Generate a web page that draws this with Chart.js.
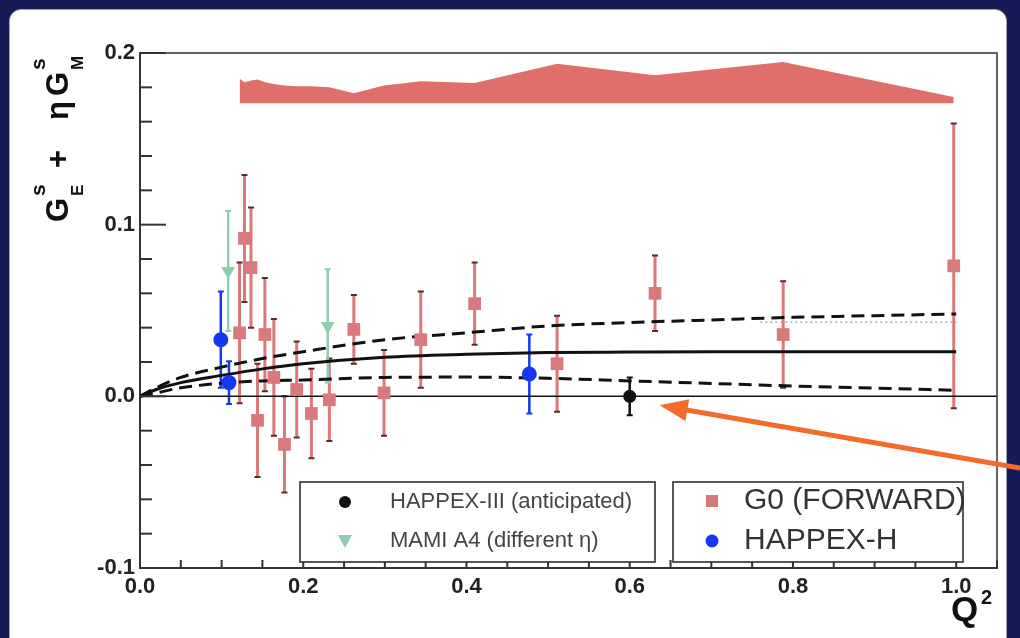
<!DOCTYPE html>
<html>
<head>
<meta charset="utf-8">
<script src="https://cdn.jsdelivr.net/npm/chart.js@4.4.0/dist/chart.umd.min.js"></script>
<style>
  body { margin: 0; background: #161b55; overflow: hidden; }
  #panel { position: absolute; left: 9px; top: 9px; width: 996px; height: 660px; background: #fff; border: 1px solid #9aa0b8; border-radius: 12px; }
  #strangeness { position: absolute; left: 0; top: 0; }
</style>
</head>
<body>
<div id="panel"></div>
<canvas id="strangeness" width="1020" height="638"></canvas>
<script>
// G0 forward-angle points
const g0Q2 = [0.122, 0.128, 0.136, 0.144, 0.153, 0.164, 0.177, 0.192, 0.210, 0.232, 0.262, 0.299, 0.344, 0.410, 0.511, 0.631, 0.788, 0.997];
const g0Val = [0.037, 0.092, 0.075, -0.014, 0.036, 0.011, -0.028, 0.004, -0.010, -0.002, 0.039, 0.002, 0.033, 0.054, 0.019, 0.060, 0.036, 0.076];
const g0Err = [0.041, 0.037, 0.035, 0.033, 0.033, 0.034, 0.028, 0.028, 0.026, 0.024, 0.020, 0.025, 0.028, 0.024, 0.028, 0.022, 0.031, 0.083];
// G0 systematic band (top edge, drawn down to a fixed base)
const g0SysTop = [0.185, 0.183, 0.184, 0.1845, 0.183, 0.182, 0.181, 0.1806, 0.1806, 0.180, 0.1766, 0.181, 0.1836, 0.1825, 0.1938, 0.187, 0.1947, 0.1743];
const g0SysBase = 0.1708;

const happexHQ2 = [0.099, 0.109, 0.477];
const happexHVal = [0.033, 0.008, 0.013];
const happexHErr = [0.028, 0.0125, 0.023];

const mamiQ2 = [0.108, 0.230];
const mamiVal = [0.073, 0.041];
const mamiErr = [0.035, 0.033];

const happex3Q2 = [0.6];
const happex3Val = [0.0];
const happex3Err = [0.011];

// theory curves
const curveQ2 = [0, 0.02, 0.05, 0.1, 0.15, 0.2, 0.3, 0.4, 0.5, 0.6, 0.7, 0.8, 0.9, 1.0];
const fitCentral = [0, 0.004, 0.008, 0.0122, 0.016, 0.019, 0.0228, 0.0245, 0.0255, 0.0258, 0.026, 0.026, 0.026, 0.026];
const fitUpper = [0, 0.005, 0.011, 0.017, 0.022, 0.026, 0.033, 0.037, 0.041, 0.043, 0.0445, 0.046, 0.047, 0.048];
const fitLower = [0, 0.002, 0.005, 0.0076, 0.009, 0.0095, 0.011, 0.0112, 0.0105, 0.009, 0.0075, 0.006, 0.0048, 0.0035];
const refQ2 = [0.76, 1.0];
const refVal = [0.0432, 0.0432];

const xTicks = [0, 0.2, 0.4, 0.6, 0.8, 1.0];
const yTicks = [-0.1, 0.0, 0.1, 0.2];

const RED = '#d9797b';
const BAND = '#e06e6a';
const BLUE = '#1537f2';
const GREEN = '#8fcdb0';

const pts = (xs, ys) => xs.map((x, i) => ({ x: x, y: ys[i] }));

const errorBars = {
  id: 'errorBars',
  beforeDatasetsDraw(chart) {
    const { ctx, chartArea: a, scales: { x, y } } = chart;
    ctx.save();
    ctx.beginPath();
    ctx.rect(a.left, a.top, a.width, a.height);
    ctx.clip();
    chart.data.datasets.forEach(ds => {
      if (!ds.errors) return;
      ds.data.forEach((p, i) => {
        const px = x.getPixelForValue(p.x);
        const top = y.getPixelForValue(p.y + ds.errors[i]);
        const bot = y.getPixelForValue(p.y - ds.errors[i]);
        ctx.strokeStyle = ds.errColor;
        ctx.lineWidth = ds.errWidth;
        ctx.beginPath();
        ctx.moveTo(px, top);
        ctx.lineTo(px, bot);
        ctx.stroke();
        ctx.strokeStyle = ds.capColor;
        ctx.lineWidth = 2;
        ctx.beginPath();
        ctx.moveTo(px - 3, top); ctx.lineTo(px + 3, top);
        ctx.moveTo(px - 3, bot); ctx.lineTo(px + 3, bot);
        ctx.stroke();
      });
    });
    ctx.restore();
  }
};

// ROOT style frame: top/right lines and inward ticks
const frame = {
  id: 'frame',
  afterDatasetsDraw(chart) {
    const { ctx, chartArea: a, scales: { x, y } } = chart;
    ctx.save();
    ctx.strokeStyle = '#333';
    ctx.lineWidth = 1.5;
    ctx.beginPath();
    ctx.moveTo(a.left, a.top); ctx.lineTo(a.right, a.top); ctx.lineTo(a.right, a.bottom);
    ctx.stroke();
    ctx.lineWidth = 2;
    for (let k = -5; k <= 10; k++) {
      const v = k * 0.02;
      const py = y.getPixelForValue(v);
      const len = k % 5 === 0 ? 26 : 12;
      ctx.beginPath(); ctx.moveTo(a.left, py); ctx.lineTo(a.left + len, py); ctx.stroke();
    }
    for (let k = 0; k <= 21; k++) {
      const v = k * 0.05;
      const px = x.getPixelForValue(v);
      const len = k % 4 === 0 ? 16 : 8;
      ctx.beginPath(); ctx.moveTo(px, a.bottom); ctx.lineTo(px, a.bottom - len); ctx.stroke();
    }
    ctx.restore();
  }
};

const legendBoxes = {
  id: 'legendBoxes',
  afterDraw(chart) {
    const { ctx } = chart;
    ctx.save();
    ctx.fillStyle = '#fff';
    ctx.strokeStyle = '#222';
    ctx.lineWidth = 1.5;
    [[300, 482, 355, 80], [673, 482, 290, 80]].forEach(b => {
      ctx.fillRect(b[0], b[1], b[2], b[3]);
      ctx.strokeRect(b[0], b[1], b[2], b[3]);
    });
    // markers
    ctx.fillStyle = '#111';
    ctx.beginPath(); ctx.arc(345, 502, 6, 0, Math.PI * 2); ctx.fill();
    ctx.fillStyle = GREEN;
    ctx.beginPath(); ctx.moveTo(338, 535); ctx.lineTo(352, 535); ctx.lineTo(345, 548); ctx.closePath(); ctx.fill();
    ctx.fillStyle = RED;
    ctx.fillRect(706, 495, 12, 12);
    ctx.fillStyle = BLUE;
    ctx.beginPath(); ctx.arc(712, 541, 6.5, 0, Math.PI * 2); ctx.fill();
    // labels
    ctx.textBaseline = 'middle';
    ctx.fillStyle = '#444';
    ctx.font = '22px "Liberation Sans"';
    ctx.fillText('HAPPEX-III (anticipated)', 390, 502);
    ctx.fillText('MAMI A4 (different \u03b7)', 390, 541);
    ctx.fillStyle = '#333';
    ctx.font = '30px "Liberation Sans"';
    ctx.fillText('G0 (FORWARD)', 744, 501);
    ctx.fillText('HAPPEX-H', 744, 541);
    ctx.restore();
  }
};

const titles = {
  id: 'titles',
  afterDraw(chart) {
    const { ctx, scales: { x, y } } = chart;
    ctx.save();
    ctx.fillStyle = '#111';
    ctx.textBaseline = 'alphabetic';
    ctx.textAlign = 'left';
    // Q^2
    ctx.font = 'bold 35px "Liberation Sans"';
    ctx.fillText('Q', 951, 621);
    ctx.font = 'bold 20px "Liberation Sans"';
    ctx.fillText('2', 981, 604);
    // G_E^s + eta G_M^s, rotated
    ctx.translate(68, 0);
    ctx.rotate(-Math.PI / 2);
    const big = 'bold 31px "Liberation Sans"';
    const sup = 'bold 21px "Liberation Sans"';
    const sub = 'bold 17px "Liberation Sans"';
    ctx.font = big; ctx.fillText('G', -222, 0);
    ctx.font = sup; ctx.fillText('s', -196, -23);
    ctx.font = sub; ctx.fillText('E', -196, 15);
    ctx.font = big; ctx.fillText('+', -168, 0);
    ctx.font = big; ctx.fillText('\u03b7', -120, 0);
    ctx.font = big; ctx.fillText('G', -96, 0);
    ctx.font = sup; ctx.fillText('s', -70, -23);
    ctx.font = sub; ctx.fillText('M', -70, 15);
    ctx.restore();

    // arrow pointing at the anticipated HAPPEX-III point
    const tipX = x.getPixelForValue(happex3Q2[0]) + 30;
    const tipY = y.getPixelForValue(happex3Val[0]) + 9;
    const tailX = 1020, tailY = 468;
    const ang = Math.atan2(tipY - tailY, tipX - tailX);
    ctx.save();
    ctx.strokeStyle = '#f26c2c';
    ctx.fillStyle = '#f26c2c';
    ctx.lineWidth = 5;
    ctx.beginPath();
    ctx.moveTo(tailX, tailY);
    ctx.lineTo(tipX - 20 * Math.cos(ang), tipY - 20 * Math.sin(ang));
    ctx.stroke();
    ctx.translate(tipX, tipY);
    ctx.rotate(ang);
    ctx.beginPath();
    ctx.moveTo(0, 0); ctx.lineTo(-28, -11); ctx.lineTo(-28, 11); ctx.closePath();
    ctx.fill();
    ctx.restore();
  }
};

const ctx = document.getElementById('strangeness');
new Chart(ctx, {
  type: 'scatter',
  data: {
    datasets: [
      {
        label: 'G0 (FORWARD)',
        data: pts(g0Q2, g0Val),
        errors: g0Err, errColor: RED, errWidth: 3, capColor: '#5a2a2a',
        pointStyle: 'rect', pointRadius: 9, backgroundColor: RED, borderWidth: 0,
        order: 1
      },
      {
        label: 'HAPPEX-H',
        data: pts(happexHQ2, happexHVal),
        errors: happexHErr, errColor: BLUE, errWidth: 2.5, capColor: BLUE,
        pointStyle: 'circle', pointRadius: 7.5, backgroundColor: BLUE, borderWidth: 0,
        order: 0
      },
      {
        label: 'MAMI A4 (different \u03b7)',
        data: pts(mamiQ2, mamiVal),
        errors: mamiErr, errColor: GREEN, errWidth: 2.5, capColor: GREEN,
        pointStyle: 'triangle', rotation: 180, pointRadius: 8, backgroundColor: GREEN, borderWidth: 0,
        order: 0
      },
      {
        label: 'HAPPEX-III (anticipated)',
        data: pts(happex3Q2, happex3Val),
        errors: happex3Err, errColor: '#111', errWidth: 2.5, capColor: '#111',
        pointStyle: 'circle', pointRadius: 6.5, backgroundColor: '#111', borderWidth: 0,
        order: 0
      },
      {
        type: 'line', data: pts(curveQ2, fitCentral),
        borderColor: '#111', borderWidth: 3, pointRadius: 0, cubicInterpolationMode: 'monotone',
        order: 3
      },
      {
        type: 'line', data: pts(curveQ2, fitUpper),
        borderColor: '#111', borderWidth: 3, borderDash: [13, 7], pointRadius: 0, cubicInterpolationMode: 'monotone',
        order: 3
      },
      {
        type: 'line', data: pts(curveQ2, fitLower),
        borderColor: '#111', borderWidth: 3, borderDash: [13, 7], pointRadius: 0, cubicInterpolationMode: 'monotone',
        order: 3
      },
      {
        type: 'line', data: pts(refQ2, refVal),
        borderColor: '#b0b0b0', borderWidth: 1.5, borderDash: [2, 3], pointRadius: 0,
        order: 4
      },
      {
        type: 'line', data: [{ x: 0, y: 0 }, { x: 1.05, y: 0 }],
        borderColor: '#111', borderWidth: 1.5, pointRadius: 0,
        order: 5
      },
      {
        type: 'line', data: pts(g0Q2, g0SysTop),
        borderWidth: 0, borderColor: BAND, backgroundColor: BAND, pointRadius: 0,
        fill: { value: g0SysBase },
        order: 6
      }
    ]
  },
  options: {
    responsive: false,
    animation: false,
    layout: { padding: { left: 0, top: 53, right: 23, bottom: 30 } },
    plugins: { legend: { display: false }, tooltip: { enabled: false } },
    scales: {
      x: {
        type: 'linear', min: 0, max: 1.05,
        grid: { display: false, drawTicks: false },
        border: { color: '#333', width: 2 },
        afterBuildTicks: s => { s.ticks = xTicks.map(v => ({ value: v })); },
        afterFit: s => { s.height = 40; },
        ticks: {
          padding: 6, maxRotation: 0, color: '#222',
          font: { family: 'Liberation Sans', size: 22, weight: 'bold' },
          callback: v => Number(v).toFixed(1)
        }
      },
      y: {
        min: -0.1, max: 0.2,
        grid: { display: false, drawTicks: false },
        border: { color: '#333', width: 2 },
        afterBuildTicks: s => { s.ticks = yTicks.map(v => ({ value: v })); },
        afterFit: s => { s.width = 140; },
        ticks: {
          padding: 5, color: '#222',
          font: { family: 'Liberation Sans', size: 22, weight: 'bold' },
          callback: v => Number(v).toFixed(1)
        }
      }
    }
  },
  plugins: [errorBars, frame, legendBoxes, titles]
});
</script>
</body>
</html>
